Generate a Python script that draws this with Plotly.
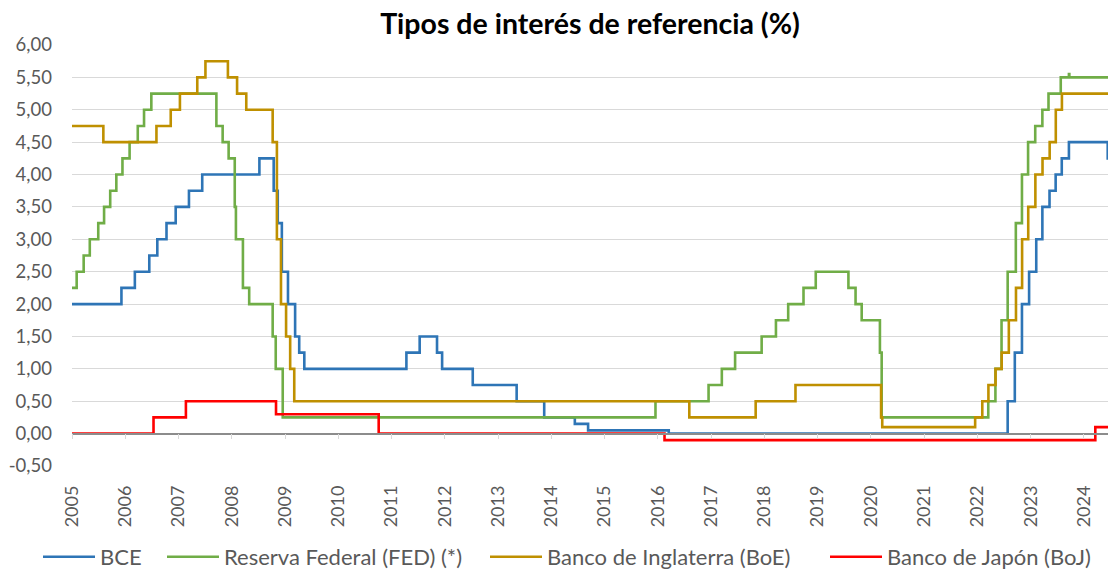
import plotly.graph_objects as go

# ---------------- data ----------------
end_date = "2024-06-14"

bce_dates = ["2005-01-01", "2005-12-06", "2006-03-08", "2006-06-15", "2006-08-09", "2006-10-11",
             "2006-12-13", "2007-03-14", "2007-06-13", "2008-07-09", "2008-10-15", "2008-11-12",
             "2008-12-10", "2009-01-21", "2009-03-11", "2009-04-08", "2009-05-13", "2011-04-13",
             "2011-07-13", "2011-11-09", "2011-12-14", "2012-07-11", "2013-05-08", "2013-11-13",
             "2014-06-11", "2014-09-10", "2016-03-16", "2022-07-27", "2022-09-14", "2022-11-02",
             "2022-12-21", "2023-02-08", "2023-03-22", "2023-05-10", "2023-06-21", "2023-08-02",
             "2023-09-20", "2024-06-12", end_date]
bce_values = [2.00, 2.25, 2.50, 2.75, 3.00, 3.25, 3.50, 3.75, 4.00, 4.25, 3.75, 3.25, 2.50, 2.00,
              1.50, 1.25, 1.00, 1.25, 1.50, 1.25, 1.00, 0.75, 0.50, 0.25, 0.15, 0.05, 0.00, 0.50,
              1.25, 2.00, 2.50, 3.00, 3.50, 3.75, 4.00, 4.25, 4.50, 4.25, 4.25]

fed_dates = ["2005-01-01", "2005-02-02", "2005-03-22", "2005-05-03", "2005-06-30", "2005-08-09",
             "2005-09-20", "2005-11-01", "2005-12-13", "2006-01-31", "2006-03-28", "2006-05-10",
             "2006-06-29", "2007-09-18", "2007-10-31", "2007-12-11", "2008-01-22", "2008-01-30",
             "2008-03-18", "2008-04-30", "2008-10-08", "2008-10-29", "2008-12-16", "2015-12-16",
             "2016-12-14", "2017-03-15", "2017-06-14", "2017-12-13", "2018-03-21", "2018-06-13",
             "2018-09-26", "2018-12-19", "2019-07-31", "2019-09-18", "2019-10-30", "2020-03-03",
             "2020-03-15", "2022-03-16", "2022-05-04", "2022-06-15", "2022-07-27", "2022-09-21",
             "2022-11-02", "2022-12-14", "2023-02-01", "2023-03-22", "2023-05-03", "2023-07-26",
             "2023-09-20", "2023-09-23", end_date]
fed_values = [2.25, 2.50, 2.75, 3.00, 3.25, 3.50, 3.75, 4.00, 4.25, 4.50, 4.75, 5.00, 5.25, 4.75,
              4.50, 4.25, 3.50, 3.00, 2.25, 2.00, 1.50, 1.00, 0.25, 0.50, 0.75, 1.00, 1.25, 1.50,
              1.75, 2.00, 2.25, 2.50, 2.25, 2.00, 1.75, 1.25, 0.25, 0.50, 1.00, 1.75, 2.50, 3.25,
              4.00, 4.50, 4.75, 5.00, 5.25, 5.50, 5.55, 5.50, 5.50]

boe_dates = ["2005-01-01", "2005-08-04", "2006-08-03", "2006-11-09", "2007-01-11", "2007-05-10",
             "2007-07-05", "2007-12-06", "2008-02-07", "2008-04-10", "2008-10-08", "2008-11-06",
             "2008-12-04", "2009-01-08", "2009-02-05", "2009-03-05", "2016-08-04", "2017-11-02",
             "2018-08-02", "2020-03-11", "2020-03-19", "2021-12-16", "2022-02-03", "2022-03-17",
             "2022-05-05", "2022-06-16", "2022-08-04", "2022-09-22", "2022-11-03", "2022-12-15",
             "2023-02-02", "2023-03-23", "2023-05-11", "2023-06-22", "2023-08-03", end_date]
boe_values = [4.75, 4.50, 4.75, 5.00, 5.25, 5.50, 5.75, 5.50, 5.25, 5.00, 4.50, 3.00, 2.00, 1.50,
              1.00, 0.50, 0.25, 0.50, 0.75, 0.25, 0.10, 0.25, 0.50, 0.75, 1.00, 1.25, 1.75, 2.25,
              3.00, 3.50, 4.00, 4.25, 4.50, 5.00, 5.25, 5.25]

boj_dates = ["2005-01-01", "2006-07-14", "2007-02-21", "2008-10-31", "2010-10-05", "2016-02-16",
             "2024-03-19", end_date]
boj_values = [0.00, 0.25, 0.50, 0.30, 0.00, -0.10, 0.10, 0.10]

series_names = ["BCE", "Reserva Federal (FED) (*)", "Banco de Inglaterra (BoE)", "Banco de Japón (BoJ)"]
series_colors = ["#2E75B6", "#70AD47", "#BF9000", "#FF0000"]

y_tickvals = [-0.5, 0.0, 0.5, 1.0, 1.5, 2.0, 2.5, 3.0, 3.5, 4.0, 4.5, 5.0, 5.5, 6.0]
y_ticktext = ["-0,50", "0,00", "0,50", "1,00", "1,50", "2,00", "2,50", "3,00", "3,50",
              "4,00", "4,50", "5,00", "5,50", "6,00"]
x_years = list(range(2005, 2025))
x_tickvals = [f"{y}-01-01" for y in x_years]
x_ticktext = [str(y) for y in x_years]

title_text = "Tipos de interés de referencia (%)"

# ---------------- figure ----------------
FONT = "Lato"
W, H = 1108, 572
fig = go.Figure()
all_series = [(bce_dates, bce_values), (fed_dates, fed_values),
              (boe_dates, boe_values), (boj_dates, boj_values)]
legend_ids = ["legend", "legend2", "legend3", "legend4"]
legend_left_px = [43, 167, 490, 830]   # page x of each legend line start

# helper so the zero-level axis (xaxis2) is rendered (drawn first, invisible)
fig.add_trace(go.Scatter(x=[bce_dates[0]], y=[bce_values[0]], xaxis="x2", yaxis="y",
                         mode="lines", showlegend=False, hoverinfo="skip",
                         line=dict(color="rgba(0,0,0,0)")))
for (d, v), name, col, lg in zip(all_series, series_names, series_colors, legend_ids):
    fig.add_trace(go.Scatter(x=d, y=v, mode="lines", name=name, legend=lg,
                             line=dict(color=col, width=2.6, shape="hv")))

legend_common = dict(orientation="h", xref="container", xanchor="left",
                     y=(H - 557) / H, yref="container", yanchor="middle",
                     font=dict(family=FONT, size=22, color="#595959"),
                     bgcolor="rgba(0,0,0,0)", itemwidth=52)
legends = {lg: dict(legend_common, x=(px - 5) / W) for lg, px in zip(legend_ids, legend_left_px)}

fig.update_layout(
    width=W, height=H,
    margin=dict(l=72, r=0, t=45, b=106),
    paper_bgcolor="white", plot_bgcolor="white",
    font=dict(family=FONT, size=18, color="#595959"),
    title=dict(text=f"<b>{title_text}</b>", x=0.5, xref="paper", xanchor="center",
               y=1 - 14 / H, yref="container", yanchor="top", pad=dict(t=0, b=0),
               font=dict(family=FONT, size=28.5, color="#000000")),
    showlegend=True,
    **legends,
    xaxis=dict(type="date", range=["2005-01-01", end_date],
               tickmode="array", tickvals=x_tickvals, ticktext=x_ticktext,
               tickangle=-90, showgrid=False, zeroline=False, showline=False,
               ticks="", ticklabelstandoff=15,
               tickfont=dict(family=FONT, size=18, color="#595959")),
    xaxis2=dict(type="date", overlaying="x", matches="x", anchor="free",
                position=0.5 / 6.5, side="bottom",
                tickmode="array", tickvals=x_tickvals, showticklabels=False,
                showgrid=False, zeroline=False, showline=True,
                linecolor="#8C8C8C", linewidth=1.5,
                ticks="outside", ticklen=5, tickcolor="#D9D9D9", tickwidth=1),
    yaxis=dict(range=[-0.5, 6.0], tickmode="array", tickvals=y_tickvals, ticktext=y_ticktext,
               showgrid=True, gridcolor="#D9D9D9", gridwidth=1, zeroline=False,
               showline=False, ticks="", ticklabelstandoff=19,
               tickfont=dict(family=FONT, size=18.5, color="#595959")),
)

# remove the browser's default 8px body margin so the figure fills the window
fig.write_html("out.html", config={"displayModeBar": False},
               post_script="document.body.style.margin='0px';document.body.style.overflow='hidden';")
